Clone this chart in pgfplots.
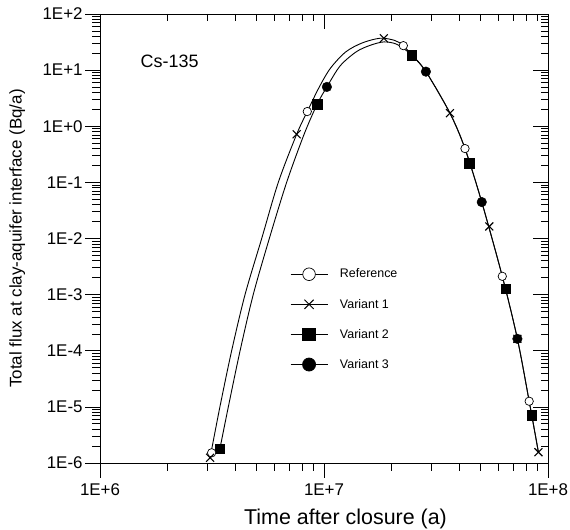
\documentclass[border=0pt]{standalone}
\usepackage{pgfplots}
\usepackage{pgfplotstable}
\pgfplotsset{compat=1.18}
\usepackage{fontspec}
\setmainfont{Liberation Sans}

\pgfplotstableread{
x y
3.10e6 1.24e-6
3.43e6 1.0e-5
3.87e6 1.0e-4
4.44e6 1.0e-3
5.27e6 1.0e-2
6.25e6 0.10
7.55e6 0.72
8.42e6 1.83
9.53e6 5.02
1.07e7 10.9
1.25e7 21.1
1.48e7 30.5
1.78e7 37.0
2.07e7 33.8
2.26e7 27.3
2.47e7 18.4
2.85e7 9.4
3.65e7 1.71
4.26e7 0.40
5.06e7 0.0446
6.25e7 2.12e-3
7.30e7 1.63e-4
8.24e7 1.26e-5
9.06e7 1.56e-6
}\curveA

\pgfplotstableread{
x y
3.43e6 1.8e-6
3.74e6 1.0e-5
4.22e6 1.0e-4
4.83e6 1.0e-3
5.70e6 1.0e-2
6.81e6 0.10
8.15e6 0.72
9.32e6 2.47
1.03e7 5.02
1.18e7 11.9
1.39e7 21.1
1.60e7 27.5
1.85e7 31.8
2.12e7 28.7
2.47e7 18.4
2.85e7 9.4
3.65e7 1.71
4.26e7 0.40
5.06e7 0.0446
6.25e7 2.12e-3
7.30e7 1.63e-4
8.24e7 1.26e-5
9.06e7 1.56e-6
}\curveB

\pgfplotstableread{
x y
3.15e6 1.52e-6
8.42e6 1.83
2.26e7 27.3
4.26e7 0.40
6.25e7 2.12e-3
8.24e7 1.26e-5
}\markRef

\pgfplotstableread{
x y
3.10e6 1.24e-6
7.55e6 0.72
1.85e7 36.9
3.65e7 1.71
5.47e7 0.0164
7.30e7 1.63e-4
9.06e7 1.56e-6
}\markVa

\pgfplotstableread{
x y
3.43e6 1.8e-6
9.32e6 2.47
2.47e7 18.4
4.45e7 0.22
6.47e7 1.26e-3
8.49e7 7.1e-6
}\markVb

\pgfplotstableread{
x y
1.03e7 5.02
2.85e7 9.4
5.06e7 0.0446
7.30e7 1.63e-4
}\markVc

\begin{document}
\begin{tikzpicture}
\useasboundingbox (-100bp,-67bp) rectangle (470bp,463bp);
\begin{axis}[
  at={(0,0)}, anchor=south west,
  scale only axis, width=448bp, height=449bp,
  xmode=log, ymode=log,
  xmin=1e6, xmax=1e8, ymin=1e-6, ymax=1e2,
  xtick={1e6,1e7,1e8},
  ytick={1e-6,1e-5,1e-4,1e-3,1e-2,1e-1,1,10,100},
  minor xtick={2e6,3e6,4e6,5e6,6e6,7e6,8e6,9e6,2e7,3e7,4e7,5e7,6e7,7e7,8e7,9e7},
  minor ytick={2e-6,3e-6,4e-6,5e-6,6e-6,7e-6,8e-6,9e-6,
               2e-5,3e-5,4e-5,5e-5,6e-5,7e-5,8e-5,9e-5,
               2e-4,3e-4,4e-4,5e-4,6e-4,7e-4,8e-4,9e-4,
               2e-3,3e-3,4e-3,5e-3,6e-3,7e-3,8e-3,9e-3,
               0.02,0.03,0.04,0.05,0.06,0.07,0.08,0.09,
               0.2,0.3,0.4,0.5,0.6,0.7,0.8,0.9,
               2,3,4,5,6,7,8,9,
               20,30,40,50,60,70,80,90},
  major tick length=15bp,
  minor tick length=8bp,
  every tick/.style={black, line width=0.7bp},
  axis line style={line width=0.9bp, black},
  clip=false,
  tick align=outside, xtick pos=left, ytick pos=left,
  xticklabels={\mbox{1E+6},\mbox{1E+7},\mbox{1E+8}},
  yticklabels={\mbox{1E-6},\mbox{1E-5},\mbox{1E-4},\mbox{1E-3},\mbox{1E-2},\mbox{1E-1},\mbox{1E+0},\mbox{1E+1},\mbox{1E+2}},
  ticklabel style={font=\fontsize{17}{19}\selectfont},
  yticklabel style={xshift=1bp},
  xticklabel style={yshift=-2bp},
  xlabel={Time after closure (a)},
  ylabel={Total flux at clay-aquifer interface (Bq/a)},
  xlabel style={font=\fontsize{21.5}{24}\selectfont, at={(axis description cs:0.548,-0.138)}, anchor=base},
  ylabel style={font=\fontsize{17}{20}\selectfont, at={(axis description cs:-0.185,0.5)}, anchor=center},
  legend style={at={(axis description cs:0.424,0.437)}, anchor=north west,
    draw=none, fill=none, font=\fontsize{12.5}{14}\selectfont,
    inner sep=0pt, row sep=15.6bp, column sep=10bp},
  legend cell align=left,
  legend image code/.code={\draw[mark repeat=2,mark phase=2,#1] plot coordinates {(0bp,0bp)(18.5bp,0bp)(37bp,0bp)};},
]
\addlegendimage{black, line width=0.8bp, mark=*, mark size=6.3bp, mark options={fill=white, line width=0.7bp}}
\addlegendentry{Reference}
\addlegendimage{black, line width=0.8bp, mark=x, mark size=6.5bp, mark options={line width=1bp}}
\addlegendentry{Variant 1}
\addlegendimage{black, line width=0.8bp, mark=square*, mark size=6.3bp}
\addlegendentry{Variant 2}
\addlegendimage{black, line width=0.8bp, mark=*, mark size=6.5bp}
\addlegendentry{Variant 3}

\addplot[black, line width=0.9bp, smooth, forget plot] table {\curveA};
\addplot[black, line width=0.9bp, smooth, forget plot] table {\curveB};
\addplot[only marks, mark=*, mark size=4.8bp, black, forget plot] table {\markVc};
\addplot[only marks, mark=square*, mark size=4.6bp, black, forget plot] table {\markVb};
\addplot[only marks, mark=*, mark size=4.2bp, black, mark options={fill=white, line width=0.7bp}, forget plot] table {\markRef};
\addplot[only marks, mark=x, mark size=5.6bp, black, mark options={line width=1.1bp}, forget plot] table {\markVa};

\node[anchor=base west, font=\fontsize{18}{20}\selectfont] at (axis description cs:0.083,0.88) {Cs-135};
\end{axis}
\begin{axis}[
  at={(0,0)}, anchor=south west,
  scale only axis, width=448bp, height=449bp,
  xmode=log, ymode=log,
  xmin=1e6, xmax=1e8, ymin=1e-6, ymax=1e2,
  xtick={1e6,1e7,1e8},
  ytick={1e-6,1e-5,1e-4,1e-3,1e-2,1e-1,1,10,100},
  minor xtick={2e6,3e6,4e6,5e6,6e6,7e6,8e6,9e6,2e7,3e7,4e7,5e7,6e7,7e7,8e7,9e7},
  minor ytick={2e-6,3e-6,4e-6,5e-6,6e-6,7e-6,8e-6,9e-6,
               2e-5,3e-5,4e-5,5e-5,6e-5,7e-5,8e-5,9e-5,
               2e-4,3e-4,4e-4,5e-4,6e-4,7e-4,8e-4,9e-4,
               2e-3,3e-3,4e-3,5e-3,6e-3,7e-3,8e-3,9e-3,
               0.02,0.03,0.04,0.05,0.06,0.07,0.08,0.09,
               0.2,0.3,0.4,0.5,0.6,0.7,0.8,0.9,
               2,3,4,5,6,7,8,9,
               20,30,40,50,60,70,80,90},
  major tick length=15bp,
  minor tick length=7bp,
  every tick/.style={black, line width=0.7bp},
  axis line style={line width=0.9bp, black},
  tick align=inside, xtick pos=right, ytick pos=right,
  xticklabels={}, yticklabels={},
]
\addplot[draw=none] coordinates {(1e6,1e-6)};
\end{axis}
\end{tikzpicture}
\end{document}
